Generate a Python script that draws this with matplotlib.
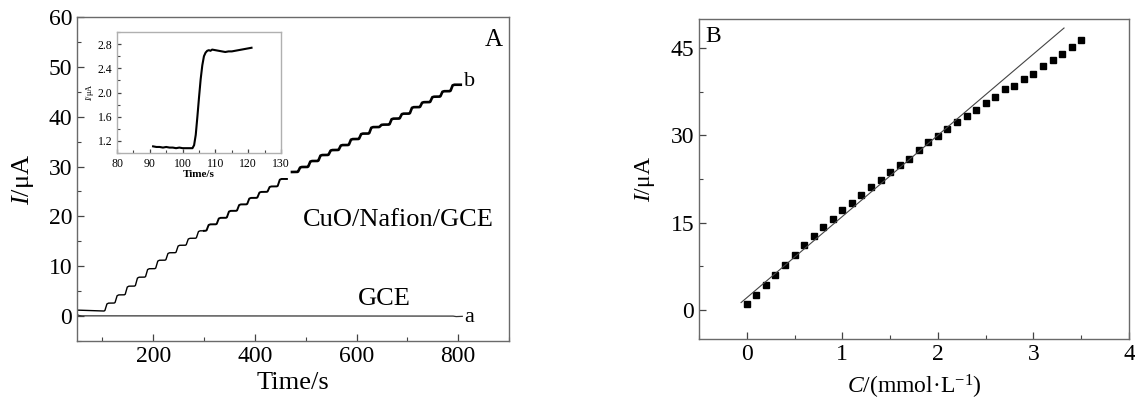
import matplotlib
matplotlib.use('Agg')
import matplotlib.pyplot as plt
from matplotlib.ticker import MultipleLocator
import numpy as np

plt.rcParams['font.family'] = ['Liberation Serif', 'DejaVu Serif']
plt.rcParams['mathtext.fontset'] = 'custom'
plt.rcParams['mathtext.rm'] = 'Liberation Serif'
plt.rcParams['mathtext.it'] = 'Liberation Serif:italic'

# ---------------- data ----------------
# Panel B: calibration points
conc = [0.0, 0.1, 0.2, 0.3, 0.4, 0.5, 0.6, 0.7, 0.8, 0.9, 1.0, 1.1, 1.2,
        1.3, 1.4, 1.5, 1.6, 1.7, 1.8, 1.9, 2.0, 2.1, 2.2, 2.3, 2.4, 2.5,
        2.6, 2.7, 2.8, 2.9, 3.0, 3.1, 3.2, 3.3, 3.4, 3.5]
current_B = [1.0, 2.6, 4.25, 6.0, 7.8, 9.5, 11.2, 12.7, 14.2, 15.6, 17.1,
             18.4, 19.7, 21.1, 22.4, 23.7, 24.9, 26.0, 27.5, 28.9, 29.9,
             31.1, 32.3, 33.3, 34.3, 35.5, 36.6, 37.9, 38.4, 39.6, 40.6,
             41.9, 42.9, 44.0, 45.1, 46.4]
fit_slope = 13.96
fit_intercept = 2.1
fit_range = [-0.06, 3.32]

# Panel A: staircase (CuO/Nafion/GCE, curve b)
step_times = [103, 123, 143, 163, 183, 203, 223, 243, 263, 283, 303, 323,
              343, 363, 383, 403, 423, 443, 463, 483, 503, 523, 543, 563,
              583, 603, 623, 643, 663, 683, 703, 723, 743, 763, 783]
step_levels = current_B
trace_start, trace_end = 50, 805
start_current = 1.2
gap_window = [463, 473]

# Panel A: bare GCE (curve a)
gce_t = [50, 54, 60, 790, 796, 808]
gce_I = [0.35, 0.12, 0.05, 0.0, -0.1, -0.05]

# Inset: single step response
inset_t = [91, 92, 93, 94, 95, 96, 97, 98, 99, 100, 101, 102, 103, 103.5,
           104, 104.5, 105, 105.5, 106, 106.5, 107, 107.5, 108, 108.5, 109,
           110, 111, 112, 113, 114, 115, 116, 117, 118, 119, 120, 121]
inset_I = [1.11, 1.10, 1.10, 1.09, 1.10, 1.09, 1.09, 1.08, 1.09, 1.08, 1.08,
           1.08, 1.08, 1.13, 1.30, 1.60, 1.92, 2.22, 2.45, 2.60, 2.66, 2.69,
           2.70, 2.69, 2.71, 2.70, 2.69, 2.68, 2.67, 2.68, 2.68, 2.69, 2.70,
           2.71, 2.72, 2.73, 2.74]

# ---------------- build staircase ----------------
t_pts = [trace_start]
i_pts = [start_current]
rise_shape = [(0.0, 0.0), (2.0, 0.08), (4.0, 0.5), (6.0, 0.9), (9.0, 1.0)]
for k, ts in enumerate(step_times):
    prev, new = step_levels[k], step_levels[k + 1]
    d = new - prev
    for dt, frac in rise_shape:
        t_pts.append(ts + dt)
        i_pts.append(prev + frac * d)
t_pts.append(trace_end)
i_pts.append(step_levels[-1])
tt = np.arange(trace_start, trace_end + 0.25, 0.25)
ii = np.interp(tt, t_pts, i_pts)
ii[(tt > gap_window[0]) & (tt < gap_window[1])] = np.nan

spine_col = '#6a6a6a'

def style_axes(ax, labelsize=17, major=5, minor=3, col=spine_col):
    for s in ax.spines.values():
        s.set_color(col)
        s.set_linewidth(1.0)
    ax.tick_params(which='both', direction='in', colors='#444444',
                   labelcolor='black', labelsize=labelsize)
    ax.tick_params(which='major', length=major, width=0.9)
    ax.tick_params(which='minor', length=minor, width=0.8)
    ax.tick_params(top=False, right=False)

fig = plt.figure(figsize=(11.35, 4.03), dpi=100)

# ---------------- Panel A ----------------
axA = fig.add_axes([0.0678, 0.1538, 0.3807, 0.8042])
axA.plot(tt[tt < 300], ii[tt < 300], color='black', lw=1.0)
m2 = (tt >= 299.75) & (tt < 470)
axA.plot(tt[m2], ii[m2], color='black', lw=1.4)
m3 = tt >= 470
axA.plot(tt[m3], ii[m3], color='black', lw=1.9)
axA.plot(gce_t, gce_I, color='#333333', lw=0.9)
axA.set_xlim(50, 900)
axA.set_ylim(-5, 60)
axA.xaxis.set_major_locator(MultipleLocator(200))
axA.xaxis.set_minor_locator(MultipleLocator(100))
axA.yaxis.set_major_locator(MultipleLocator(10))
axA.yaxis.set_minor_locator(MultipleLocator(5))
style_axes(axA)
axA.set_xlabel('Time/s', fontsize=19, labelpad=4)
axA.set_ylabel(r'$I$/μA', fontsize=19, labelpad=9)
axA.text(870, 55.3, 'A', fontsize=18, ha='center', va='center')
axA.text(822, 47, 'b', fontsize=16, ha='center', va='center')
axA.text(822, -0.3, 'a', fontsize=16, ha='center', va='center')
axA.text(683, 19.2, 'CuO/Nafion/GCE', fontsize=19, ha='center', va='center')
axA.text(654, 3.5, 'GCE', fontsize=19, ha='center', va='center')

# ---------------- Inset ----------------
axI = fig.add_axes([0.1031, 0.6203, 0.1445, 0.3002])
axI.plot(inset_t, inset_I, color='black', lw=1.5)
axI.set_xlim(80, 130)
axI.set_ylim(1.0, 3.0)
axI.xaxis.set_major_locator(MultipleLocator(10))
axI.xaxis.set_minor_locator(MultipleLocator(5))
axI.yaxis.set_major_locator(MultipleLocator(0.4))
axI.yaxis.set_minor_locator(MultipleLocator(0.2))
axI.yaxis.set_major_formatter(matplotlib.ticker.FormatStrFormatter('%.1f'))
style_axes(axI, labelsize=8.5, major=3, minor=2, col='#b0b0b0')
axI.set_xlabel('Time/s', fontsize=8, fontweight='bold', labelpad=0)
axI.set_ylabel(r'$I$/μA', fontsize=6, labelpad=1)

# ---------------- Panel B ----------------
axB = fig.add_axes([0.6159, 0.1588, 0.3788, 0.7941])
axB.plot(conc, current_B, 's', color='black', markersize=4.6)
fx = np.array(fit_range)
axB.plot(fx, fit_intercept + fit_slope * fx, color='#444444', lw=0.8)
axB.set_xlim(-0.5, 4)
axB.set_ylim(-5, 50)
axB.xaxis.set_major_locator(MultipleLocator(1))
axB.xaxis.set_minor_locator(MultipleLocator(0.5))
axB.yaxis.set_major_locator(MultipleLocator(15))
axB.yaxis.set_minor_locator(MultipleLocator(7.5))
style_axes(axB)
axB.set_xlabel(r'$C$/(mmol·L$^{-1}$)', fontsize=17, labelpad=6)
axB.set_ylabel(r'$I$/μA', fontsize=17, labelpad=10)
axB.text(-0.35, 47, 'B', fontsize=17, ha='center', va='center')

fig.savefig('out.png', dpi=100)
